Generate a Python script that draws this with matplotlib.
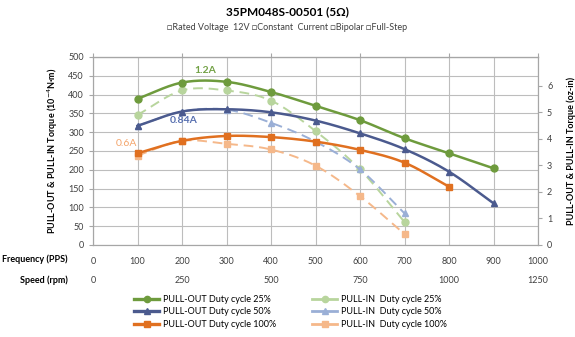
import numpy as np
from matplotlib import pyplot as plt

plt.rcParams["font.family"] = ["Lato", "DejaVu Sans"]

# frequency (PPS) and torque (10^-4 N·m)
freq_out = [100, 200, 300, 400, 500, 600, 700, 800, 900]
out_25 = [389, 432, 434, 407, 370, 332, 284, 244, 204]
out_50 = [317, 355, 361, 353, 331, 297, 255, 195, 111]
freq_out100 = [100, 200, 300, 400, 500, 600, 700, 800]
out_100 = [244, 277, 290, 287, 275, 253, 219, 155]

freq_in = [100, 200, 300, 400, 500, 600, 700]
in_25 = [346, 411, 411, 384, 303, 201, 61]
in_50 = [317, 355, 360, 325, 275, 201, 84]
in_100 = [238, 277, 269, 254, 211, 130, 29]

freq_ticks = [0, 100, 200, 300, 400, 500, 600, 700, 800, 900, 1000]
speed_ticks = [0, 250, 500, 750, 1000, 1250]
oz_ticks = [0, 1, 2, 3, 4, 5, 6]

NM_TO_OZIN = 141.612


def smooth(x, y, n=24):
    # Catmull-Rom curve through the points (Excel "smoothed line" look)
    x = np.asarray(x, float)
    y = np.asarray(y, float)
    px = np.concatenate([[2 * x[0] - x[1]], x, [2 * x[-1] - x[-2]]])
    py = np.concatenate([[2 * y[0] - y[1]], y, [2 * y[-1] - y[-2]]])
    t = np.linspace(0, 1, n)
    xs, ys = [], []
    for i in range(1, len(px) - 2):
        for p, out in ((px, xs), (py, ys)):
            p0, p1, p2, p3 = p[i - 1], p[i], p[i + 1], p[i + 2]
            out.extend(0.5 * (2 * p1 + (-p0 + p2) * t
                              + (2 * p0 - 5 * p1 + 4 * p2 - p3) * t ** 2
                              + (-p0 + 3 * p1 - 3 * p2 + p3) * t ** 3))
    return xs, ys


fig = plt.figure(figsize=(5.75, 3.37), dpi=100)
ax = fig.add_axes([93 / 575, 92 / 337, 445 / 575, 188 / 337])

series = [
    (freq_out, out_25, "#6E9B3D", "o", "-", 1.8, "PULL-OUT Duty cycle 25%"),
    (freq_out, out_50, "#4B5A8E", "^", "-", 1.8, "PULL-OUT Duty cycle 50%"),
    (freq_out100, out_100, "#E07020", "s", "-", 1.8, "PULL-OUT Duty cycle 100%"),
    (freq_in, in_25, "#B8D59D", "o", "--", 1.4, "PULL-IN  Duty cycle 25%"),
    (freq_in, in_50, "#9AAFD6", "^", "--", 1.4, "PULL-IN  Duty cycle 50%"),
    (freq_in, in_100, "#F5B88A", "s", "--", 1.4, "PULL-IN  Duty cycle 100%"),
]

# pull-in curves first so the pull-out curves sit on top
handles = {}
for fx, fy, col, mk, ls, lw, lab in series[3:] + series[:3]:
    sx, sy = smooth(fx, fy)
    z = 3 if ls == "-" else 2
    ax.plot(sx, sy, color=col, lw=lw, ls=ls, dashes=(5, 3) if ls == "--" else (None, None), zorder=z)
    ax.plot(fx, fy, color=col, marker=mk, ms=5, ls="none", zorder=z)
    handles[lab] = plt.Line2D([], [], color=col, lw=lw + 0.6, marker=mk, ms=4.5)

ax.set_xlim(0, 1000)
ax.set_ylim(0, 500)
ax.set_xticks(freq_ticks)
ax.set_yticks(range(0, 501, 50))
ax.grid(True, color="#BDBDBD", lw=0.8)
ax.set_axisbelow(True)
for s in ax.spines.values():
    s.set_color("#A6A6A6")
ax.tick_params(axis="x", length=0, pad=9, labelsize=6.5, colors="#404040")
ax.tick_params(axis="y", length=3, color="#A6A6A6", labelsize=6.5, labelcolor="#404040")
ax.set_ylabel("PULL-OUT & PULL-IN Torque (10$^{-4}$N·m)", fontsize=6.5,
              fontweight="bold", labelpad=6)

ax.text(253, 465, "1.2A", color="#72A145", fontsize=7.5, fontweight="bold", ha="center", va="center")
ax.text(204, 330, "0.84A", color="#5870B0", fontsize=7.5, fontweight="bold", ha="center", va="center")
ax.text(76, 271, "0.6A", color="#F4A46A", fontsize=7.5, ha="center", va="center")

# right axis in oz-in
ax2 = ax.twinx()
ax2.set_ylim(0, 500e-4 * NM_TO_OZIN)
ax2.set_yticks(oz_ticks)
ax2.tick_params(axis="y", length=3, color="#A6A6A6", labelsize=6.5, labelcolor="#404040")
for s in ax2.spines.values():
    s.set_color("#A6A6A6")
ax2.set_ylabel("PULL-OUT & PULL-IN Torque (oz-in)", fontsize=6.5, fontweight="bold",
               labelpad=10)

# speed scale below the frequency scale
speed = ax.secondary_xaxis(-0.15, functions=(lambda f: f * 1.25, lambda r: r / 1.25))
speed.set_xticks(speed_ticks)
speed.spines["bottom"].set_visible(False)
speed.tick_params(length=0, pad=2, labelsize=6.5, colors="#404040")

top = ax.secondary_xaxis("top", functions=(lambda f: f * 1.25, lambda r: r / 1.25))
top.set_xticks(speed_ticks)
top.set_xticklabels([])
top.spines["top"].set_color("#A6A6A6")
top.tick_params(length=3, color="#A6A6A6")

fig.text(0.117, 1 - 259 / 337, "Frequency (PPS)", fontsize=6.5, fontweight="bold",
         ha="right", va="center")
fig.text(0.118, 1 - 280 / 337, "Speed (rpm)", fontsize=6.5, fontweight="bold",
         ha="right", va="center")

fig.text(0.5, 1 - 12 / 337, "35PM048S-00501 (5Ω)", fontsize=8.5, fontweight="bold",
         ha="center", va="center")
fig.text(0.5, 1 - 27 / 337, "□Rated Voltage  12V □Constant  Current □Bipolar □Full-Step",
         fontsize=6.5, ha="center", va="center", color="#404040")

order = [s[6] for s in series]
fig.legend([handles[k] for k in order], order, loc="center", ncol=2,
           bbox_to_anchor=(0.505, 1 - 312 / 337), frameon=False, fontsize=6.5,
           handlelength=2.8, columnspacing=4.0, labelspacing=0.35, handletextpad=0.4)

fig.savefig("out.png", dpi=100)
